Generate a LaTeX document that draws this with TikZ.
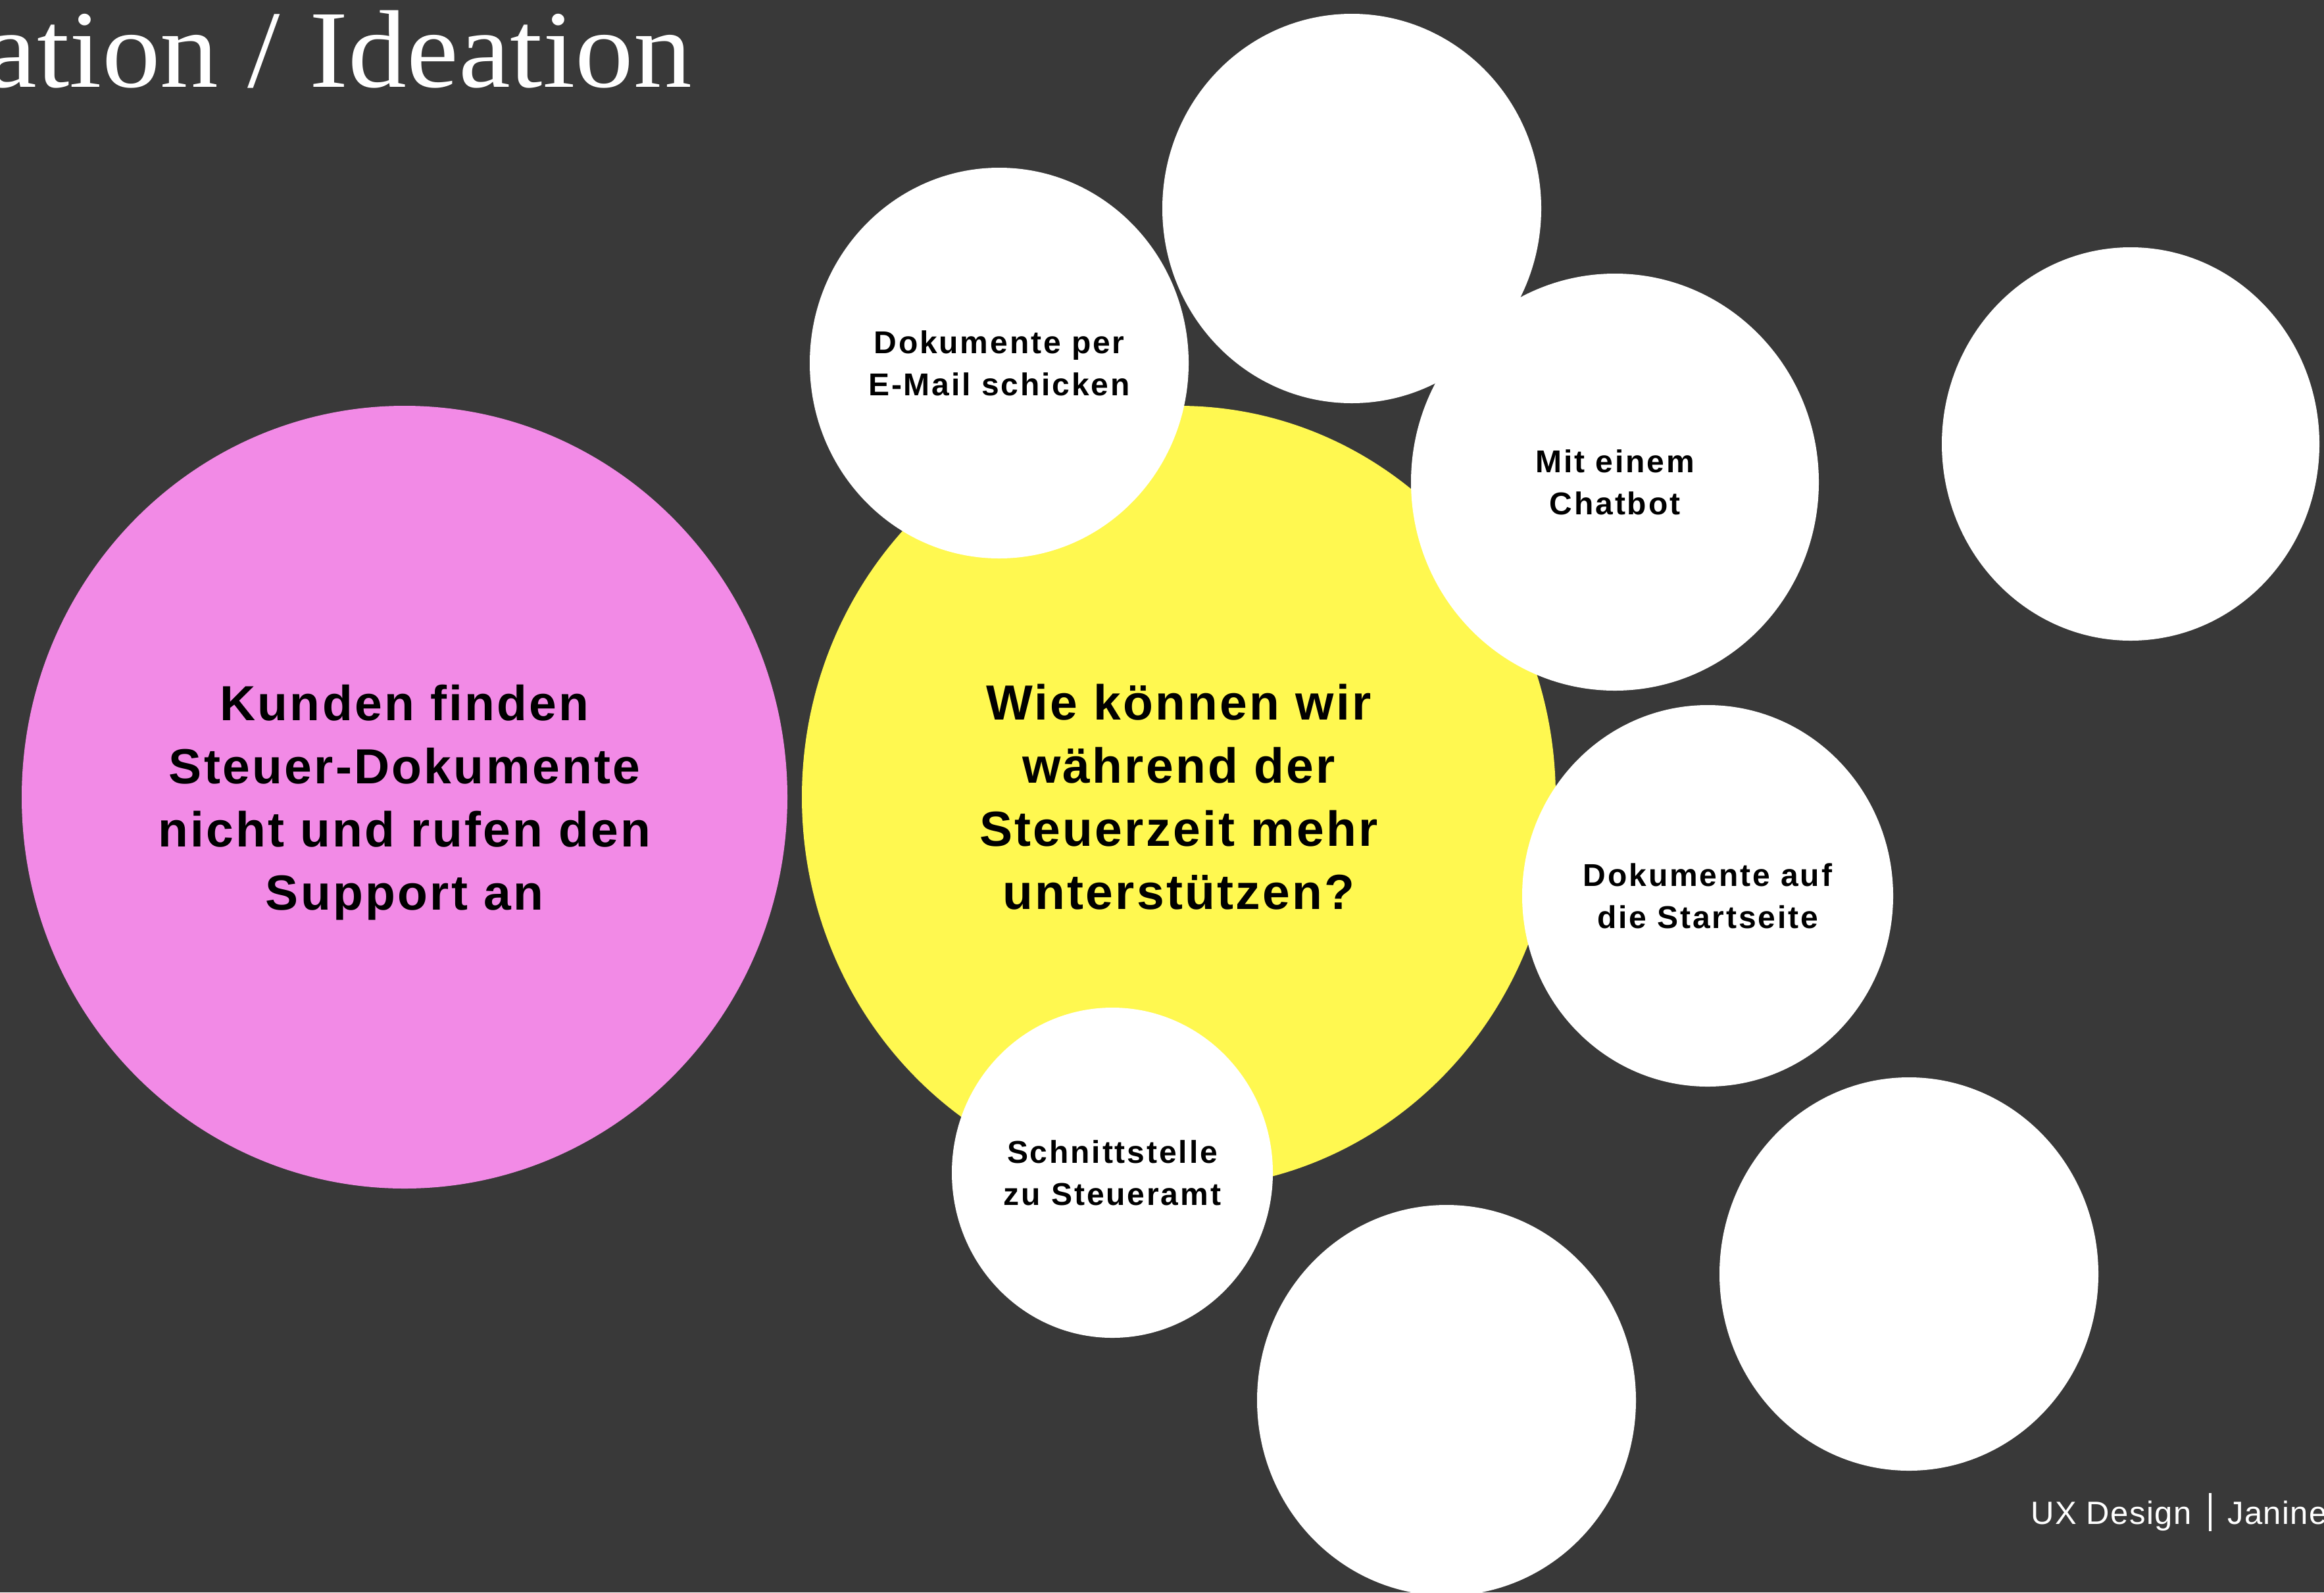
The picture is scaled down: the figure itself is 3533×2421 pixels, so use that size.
\documentclass[tikz,border=0pt]{standalone}
\usepackage{fontspec}
\usetikzlibrary{shapes.geometric}
\setmainfont{Liberation Sans}
\newfontfamily\titlefont{Liberation Serif}
\newfontfamily\bigfont{Liberation Sans}[LetterSpace=4.4]
\newfontfamily\smallfont{Liberation Sans}[LetterSpace=6]
\newfontfamily\footfont{Liberation Sans}[LetterSpace=3]
\definecolor{bgdark}{RGB}{57,57,57}
\definecolor{pinkc}{RGB}{242,138,230}
\definecolor{yellowc}{RGB}{255,248,80}
\tikzset{
  bubble/.style={ellipse, inner sep=0pt, align=center, text=black},
  bigbubble/.style={bubble, font=\bigfont\bfseries\fontsize{75}{96}\selectfont},
  idea/.style={bubble, fill=white, font=\smallfont\bfseries\fontsize{48}{64}\selectfont},
  foottext/.style={text=white, inner sep=0pt, font=\footfont\fontsize{49}{58}\selectfont},
}
\begin{document}
\begin{tikzpicture}[x=1pt,y=-1pt]
\useasboundingbox (0,0) rectangle (3533,2421);
\clip (0,0) rectangle (3533,2421);
\fill[bgdark] (0,0) rectangle (3533,2421);

\node[anchor=base east, text=white, inner sep=0pt, font=\titlefont\fontsize{168}{200}\selectfont] (title) at (1052,132) {\scalebox{1.056}[1]{ation / Ideation}};

\node[bigbubble, fill=pinkc, text depth=0pt, minimum width=1164, minimum height=1190] (problem) at (615,1212)
  {Kunden finden\\Steuer-Dokumente\\nicht und rufen den\\Support an};
\node[bigbubble, fill=yellowc, minimum width=1146, minimum height=1190] (question) at (1792,1212)
  {Wie können wir\\während der\\Steuerzeit mehr\\unterstützen?};

\node[idea, minimum width=576, minimum height=594] (email) at (1519,552) {Dokumente per\\E-Mail schicken};
\node[idea, minimum width=576, minimum height=592] (top) at (2055,317) {};
\node[idea, minimum width=620, minimum height=634] (chatbot) at (2455,733) {Mit einem\\Chatbot};
\node[idea, minimum width=574, minimum height=598] (righttop) at (3239,675) {};
\node[idea, minimum width=564, minimum height=580] (start) at (2596,1362) {Dokumente auf\\die Startseite};
\node[idea, minimum width=488, minimum height=502] (amt) at (1691,1783) {Schnittstelle\\zu Steueramt};
\node[idea, minimum width=576, minimum height=594] (bottom) at (2199,2129) {};
\node[idea, minimum width=576, minimum height=598] (bottomright) at (2902,1937) {};

\node[foottext, anchor=base east] (ux) at (3332,2317) {UX Design};
\coordinate (bartop) at (3360,2270);
\coordinate (barbot) at (3360,2328);
\draw[white, line width=4] (bartop) -- (barbot);
\node[foottext, anchor=base west] (name) at (3386,2317) {Janine};
\end{tikzpicture}
\end{document}
